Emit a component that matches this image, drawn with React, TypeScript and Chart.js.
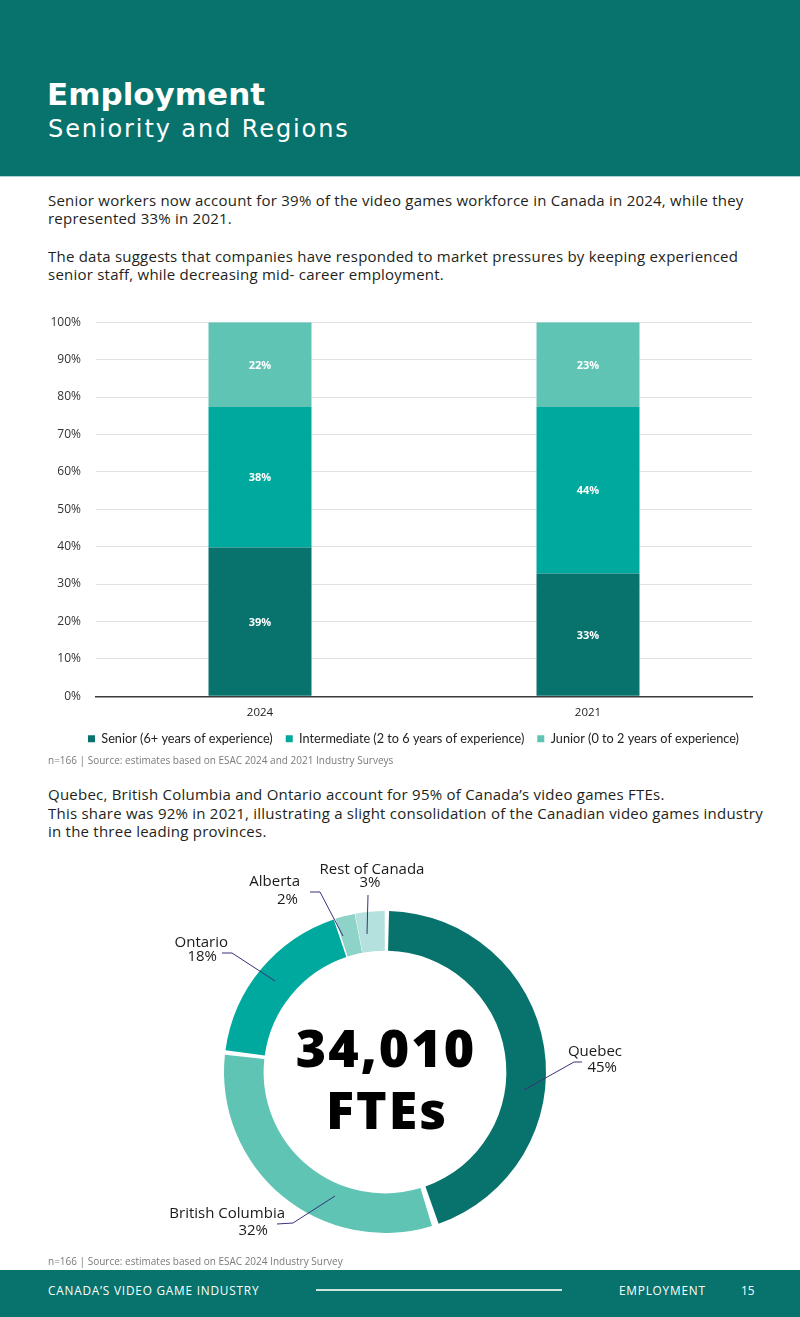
import React, { useEffect, useRef } from "react";
import { Chart, registerables } from "chart.js";

Chart.register(...registerables);

// ---------- data ----------
const years = ["2024", "2021"];
const seniorityNames = [
  "Senior (6+ years of experience)",
  "Intermediate (2 to 6 years of experience)",
  "Junior (0 to 2 years of experience)",
];
const seniorShare = [39.8, 32.8];
const intermediateShare = [37.5, 44.5];
const juniorShare = [22.7, 22.7];
const seniorLabels = ["39%", "33%"];
const intermediateLabels = ["38%", "44%"];
const juniorLabels = ["22%", "23%"];

const regions = ["Quebec", "British Columbia", "Ontario", "Alberta", "Rest of Canada"];
const regionShare = [45, 32, 18, 2, 3];
const regionLabels = ["45%", "32%", "18%", "2%", "3%"];
const totalFTEs = "34,010";
const totalUnit = "FTEs";

// ---------- styles ----------
const TEAL_DARK = "#07736c";
const TEAL_MID = "#00a99d";
const TEAL_LIGHT = "#5fc4b4";
const ALBERTA_C = "#8dd3c7";
const REST_C = "#b4e0dd";
const BODY_FONT = "'Open Sans', sans-serif";

// leader-line layout for the donut, relative to the donut centre
const donutLabelLayout = [
  { line: [[139, 18], [189, -10], [197, -10]], name: [237, -20], pct: [232, -4], align: "right" },
  { line: [[-50, 124], [-92, 151], [-108, 152]], name: [-100, 142], pct: [-117, 159], align: "right" },
  { line: [[-110, -91], [-153, -119], [-163, -119]], name: [-157, -129], pct: [-168, -115], align: "right" },
  { line: [[-42, -136], [-65, -180], [-75, -180]], name: [-85, -190], pct: [-87, -172], align: "right" },
  { line: [[-18, -138], [-17, -177]], name: [-13, -202], pct: [-15, -189], align: "center" },
];

const barLabelPlugin = {
  id: "barLabels",
  afterDatasetsDraw(chart: any) {
    const ctx = chart.ctx;
    const sets = [seniorLabels, intermediateLabels, juniorLabels];
    ctx.save();
    ctx.fillStyle = "#ffffff";
    ctx.font = `bold 11px ${BODY_FONT}`;
    ctx.textAlign = "center";
    ctx.textBaseline = "middle";
    chart.data.datasets.forEach((_ds: any, i: number) => {
      const meta = chart.getDatasetMeta(i);
      meta.data.forEach((bar: any, j: number) => {
        const { x, y, base } = bar.getProps(["x", "y", "base"], true);
        ctx.fillText(sets[i][j], x, (y + base) / 2 + 1);
      });
    });
    ctx.restore();
  },
};

const donutPlugin = {
  id: "donutLabels",
  afterDraw(chart: any) {
    const ctx = chart.ctx;
    const ca = chart.chartArea;
    const cx = (ca.left + ca.right) / 2;
    const cy = (ca.top + ca.bottom) / 2;
    ctx.save();
    ctx.fillStyle = "#000000";
    ctx.textAlign = "center";
    ctx.textBaseline = "middle";
    ctx.font = `800 52px ${BODY_FONT}`;
    try { (ctx as any).letterSpacing = "2px"; } catch (e) {}
    ctx.fillText(totalFTEs, cx + 1, cy - 20);
    ctx.fillText(totalUnit, cx + 2, cy + 42);
    try { (ctx as any).letterSpacing = "0px"; } catch (e) {}
    donutLabelLayout.forEach((l, i) => {
      ctx.strokeStyle = "#36337a";
      ctx.lineWidth = 1;
      ctx.beginPath();
      l.line.forEach((p, k) => {
        if (k === 0) ctx.moveTo(cx + p[0], cy + p[1]);
        else ctx.lineTo(cx + p[0], cy + p[1]);
      });
      ctx.stroke();
      ctx.fillStyle = "#1a1a1a";
      ctx.font = `15px ${BODY_FONT}`;
      ctx.textAlign = l.align as CanvasTextAlign;
      ctx.textBaseline = "middle";
      ctx.fillText(regions[i], cx + l.name[0], cy + l.name[1]);
      ctx.fillText(regionLabels[i], cx + l.pct[0], cy + l.pct[1]);
    });
    ctx.restore();
  },
};

function SeniorityChart() {
  const ref = useRef<HTMLCanvasElement>(null);
  useEffect(() => {
    const chart = new Chart(ref.current!, {
      type: "bar",
      data: {
        labels: years,
        datasets: [
          { label: seniorityNames[0], data: seniorShare, backgroundColor: TEAL_DARK },
          { label: seniorityNames[1], data: intermediateShare, backgroundColor: TEAL_MID },
          { label: seniorityNames[2], data: juniorShare, backgroundColor: TEAL_LIGHT },
        ],
      },
      options: {
        responsive: false,
        animation: false,
        layout: { padding: { top: 21, right: 8, left: 0, bottom: 5 } },
        datasets: { bar: { categoryPercentage: 1, barPercentage: 0.314, borderWidth: 0 } },
        plugins: {
          tooltip: { enabled: false },
          legend: {
            position: "bottom",
            align: "end",
            labels: {
              boxWidth: 7,
              boxHeight: 7,
              padding: 13,
              color: "#222",
              font: { family: "Lato, sans-serif", size: 12.7 },
            },
          },
        },
        scales: {
          x: {
            stacked: true,
            grid: { display: false, drawTicks: false },
            border: { color: "#3a3a3a", width: 1.5 },
            ticks: { color: "#222", font: { family: BODY_FONT, size: 11.5 }, padding: 10 },
            afterFit: (s: any) => { s.height = 23; },
          },
          y: {
            stacked: true,
            min: 0,
            max: 100,
            ticks: {
              stepSize: 10,
              padding: 15,
              color: "#333",
              font: { family: BODY_FONT, size: 12 },
              callback: (v: any) => v + "%",
            },
            grid: { color: "#e2e2e2", lineWidth: 1, drawTicks: false },
            border: { display: false },
            afterFit: (s: any) => { s.width = 56; },
          },
        },
      },
      plugins: [barLabelPlugin],
    } as any);
    return () => chart.destroy();
  }, []);
  return (
    <canvas
      ref={ref}
      width={720}
      height={460}
      style={{ position: "absolute", left: 40, top: 300, width: 720, height: 460 }}
    />
  );
}

function RegionChart() {
  const ref = useRef<HTMLCanvasElement>(null);
  useEffect(() => {
    const chart = new Chart(ref.current!, {
      type: "doughnut",
      data: {
        labels: regions,
        datasets: [
          {
            data: regionShare,
            backgroundColor: [TEAL_DARK, TEAL_LIGHT, TEAL_MID, ALBERTA_C, REST_C],
            borderWidth: 0,
            spacing: 5,
          },
        ],
      },
      options: {
        responsive: false,
        animation: false,
        cutout: "75%",
        layout: { padding: { left: 99, right: 99, top: 59, bottom: 59 } },
        plugins: { legend: { display: false }, tooltip: { enabled: false } },
      },
      plugins: [donutPlugin],
    } as any);
    return () => chart.destroy();
  }, []);
  return (
    <canvas
      ref={ref}
      width={520}
      height={440}
      style={{ position: "absolute", left: 125, top: 852, width: 520, height: 440 }}
    />
  );
}

function Line({ top, children, size = 15, color = "#231f20", left = 48, spacing = 0.23 }: any) {
  return (
    <div
      style={{
        position: "absolute",
        left,
        top,
        fontFamily: BODY_FONT,
        fontSize: size,
        lineHeight: "18px",
        letterSpacing: spacing,
        color,
        whiteSpace: "nowrap",
      }}
    >
      {children}
    </div>
  );
}

const footerText = {
  position: "absolute" as const,
  top: 1282,
  color: "#fff",
  fontFamily: BODY_FONT,
  fontSize: 11.8,
  lineHeight: "16px",
  letterSpacing: 0.8,
  whiteSpace: "nowrap" as const,
};

export default function App() {
  return (
    <div
      style={{
        position: "absolute",
        left: 0,
        top: 0,
        width: 800,
        height: 1317,
        overflow: "hidden",
        background: "#ffffff",
      }}
    >
      <div
        style={{
          position: "absolute",
          left: 0,
          top: 0,
          width: 800,
          height: 176,
          background: TEAL_DARK,
          borderBottom: "1px solid #a9d6d1",
        }}
      />
      <div
        style={{
          position: "absolute",
          left: 47,
          top: 74,
          color: "#fff",
          fontFamily: "'DejaVu Sans', sans-serif",
          fontWeight: 700,
          fontSize: 31,
          lineHeight: "40px",
          whiteSpace: "nowrap",
        }}
      >
        Employment
      </div>
      <div
        style={{
          position: "absolute",
          left: 48,
          top: 114,
          color: "#fff",
          fontFamily: "'DejaVu Sans', sans-serif",
          fontSize: 24,
          lineHeight: "30px",
          letterSpacing: 1.9,
          whiteSpace: "nowrap",
        }}
      >
        Seniority and Regions
      </div>

      <Line top={191}>Senior workers now account for 39% of the video games workforce in Canada in 2024, while they</Line>
      <Line top={209}>represented 33% in 2021.</Line>
      <Line top={247}>The data suggests that companies have responded to market pressures by keeping experienced</Line>
      <Line top={265}>senior staff, while decreasing mid- career employment.</Line>

      <SeniorityChart />

      <Line top={751} size={10} spacing={0} color="#7a7a7a">n=166 | Source: estimates based on ESAC 2024 and 2021 Industry Surveys</Line>

      <Line top={785}>Quebec, British Columbia and Ontario account for 95% of Canada’s video games FTEs.</Line>
      <Line top={804}>This share was 92% in 2021, illustrating a slight consolidation of the Canadian video games industry</Line>
      <Line top={822}>in the three leading provinces.</Line>

      <RegionChart />

      <Line top={1252} size={10} spacing={0} color="#7a7a7a">n=166 | Source: estimates based on ESAC 2024 Industry Survey</Line>

      <div
        style={{
          position: "absolute",
          left: 0,
          top: 1270,
          width: 800,
          height: 47,
          background: TEAL_DARK,
        }}
      />
      <div style={{ ...footerText, left: 48 }}>CANADA’S VIDEO GAME INDUSTRY</div>
      <div
        style={{
          position: "absolute",
          left: 316,
          top: 1289,
          width: 246,
          height: 1.5,
          background: "#cfe3e0",
        }}
      />
      <div style={{ ...footerText, left: 619 }}>EMPLOYMENT</div>
      <div style={{ ...footerText, left: 741, letterSpacing: 0 }}>15</div>
    </div>
  );
}
